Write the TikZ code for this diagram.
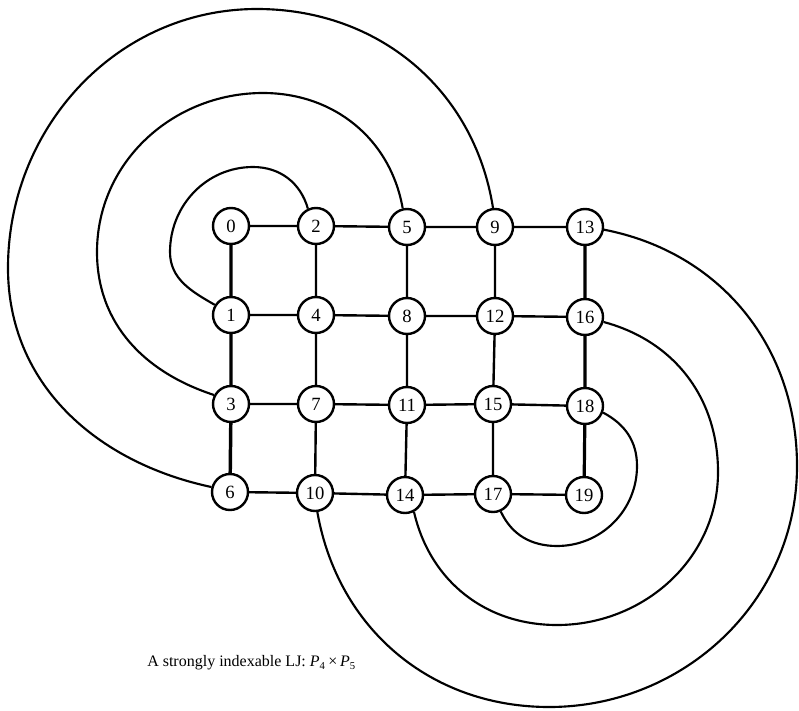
\documentclass[tikz,border=0pt]{standalone}
\usepackage{fontspec}
\setmainfont{Liberation Serif}
\begin{document}
\begin{tikzpicture}[x=0.75pt,y=0.75pt,
  vtx/.style={circle,draw,line width=1.8pt,fill=white,minimum size=27pt,inner sep=0pt,
    font=\fontsize{14}{14}\selectfont},
  edge/.style={line width=1.8pt},
  arcedge/.style={line width=1.6pt}]
\useasboundingbox (0,0) rectangle (799,-710);
% grid nodes
\node[vtx] (n0)  at (231,-226) {0};
\node[vtx] (n2)  at (316,-226) {2};
\node[vtx] (n5)  at (407,-227) {5};
\node[vtx] (n9)  at (495,-227) {9};
\node[vtx] (n13) at (585,-227) {13};
\node[vtx] (n1)  at (231,-315) {1};
\node[vtx] (n4)  at (316,-315) {4};
\node[vtx] (n8)  at (407,-316) {8};
\node[vtx] (n12) at (495,-316) {12};
\node[vtx] (n16) at (585,-317) {16};
\node[vtx] (n3)  at (231,-404) {3};
\node[vtx] (n7)  at (316,-404) {7};
\node[vtx] (n11) at (407,-405) {11};
\node[vtx] (n15) at (493,-404) {15};
\node[vtx] (n18) at (585,-406) {18};
\node[vtx] (n6)  at (230,-492) {6};
\node[vtx] (n10) at (315,-493) {10};
\node[vtx] (n14) at (405,-495) {14};
\node[vtx] (n17) at (493,-494) {17};
\node[vtx] (n19) at (584,-495) {19};
% waypoints of the outer arcs
\coordinate (aL) at (170,-252);
\coordinate (aT) at (253,-167);
\coordinate (bL) at (97,-252);
\coordinate (bT) at (263,-93);
\coordinate (cL) at (8,-268);
\coordinate (cT) at (257,-9);
\coordinate (dR) at (637,-466);
\coordinate (dB) at (557,-546);
\coordinate (eR) at (718,-472);
\coordinate (eB) at (557,-625);
\coordinate (fR) at (797,-466);
\coordinate (fB) at (549,-707);
% grid edges
\draw[edge] (n0) -- (n2) -- (n5) -- (n9) -- (n13);
\draw[edge] (n1) -- (n4) -- (n8) -- (n12) -- (n16);
\draw[edge] (n3) -- (n7) -- (n11) -- (n15) -- (n18);
\draw[edge] (n6) -- (n10) -- (n14) -- (n17) -- (n19);
\draw[edge,line width=2.6pt] (n0) -- (n1) -- (n3) -- (n6);
\draw[edge] (n2) -- (n4) -- (n7) -- (n10);
\draw[edge] (n5) -- (n8) -- (n11) -- (n14);
\draw[edge] (n9) -- (n12) -- (n15) -- (n17);
\draw[edge,line width=2.4pt] (n13) -- (n16) -- (n18) -- (n19);
% left arcs
\draw[arcedge] (n1.148) to[out=150,in=270] (aL) to[out=90,in=180] (aT) to[out=0,in=106] (n2.115);
\draw[arcedge] (n3.152) to[out=162,in=270] (bL) to[out=90,in=180] (bT) to[out=0,in=100] (n5.103);
\draw[arcedge] (n6.165) to[out=168,in=270] (cL) to[out=90,in=180] (cT) to[out=0,in=99] (n9.96);
% right arcs
\draw[arcedge] (n18.-20) to[out=-28,in=90] (dR) to[out=270,in=0] (dB) to[out=180,in=295] (n17.-66);
\draw[arcedge] (n16.-15) to[out=-15,in=90] (eR) to[out=270,in=0] (eB) to[out=180,in=283] (n14.-62);
\draw[arcedge] (n13.-8) to[out=-11,in=90] (fR) to[out=270,in=0] (fB) to[out=180,in=280] (n10.-83);
% caption
\node[anchor=west,inner sep=0pt,font=\fontsize{12}{14}\selectfont] (cap) at (147,-663)
  {A strongly indexable LJ: {\itshape P}\textsubscript{4}\,×\,{\itshape P}\textsubscript{5}};
\end{tikzpicture}
\end{document}
